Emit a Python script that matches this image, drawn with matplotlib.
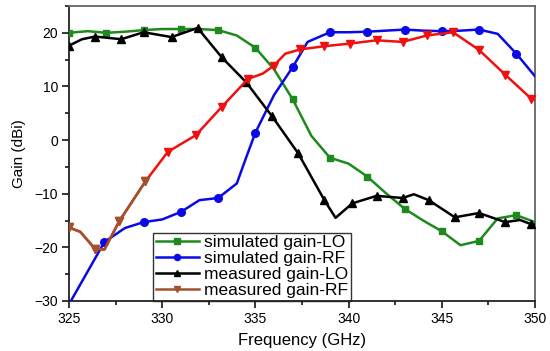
import matplotlib
matplotlib.use("Agg")
import matplotlib.pyplot as plt
from matplotlib.ticker import MultipleLocator

plt.rcParams['font.family'] = ['Liberation Sans', 'DejaVu Sans']

# simulated gain-LO
sim_lo_f = [325, 326, 327, 328, 329, 330, 331, 332, 333, 334, 335, 336, 337, 338,
            339, 340, 341, 342, 343, 344, 345, 346, 347, 348, 349, 350]
sim_lo_g = [20.0, 20.3, 20.0, 20.2, 20.5, 20.7, 20.7, 20.7, 20.5, 19.5, 17.2, 13.2, 7.6, 0.8,
            -3.3, -4.4, -6.8, -9.9, -12.8, -15.0, -17.0, -19.6, -18.8, -14.6, -14.0, -15.3]
sim_lo_mk = list(range(0, 26, 2))

# simulated gain-RF
sim_rf_f = [325.1, 326.9, 328, 329, 330, 331, 332, 333, 334, 334.5, 335, 336, 337, 337.8,
            339, 340, 341, 342, 343, 344, 345, 346, 347, 348, 349, 350]
sim_rf_g = [-30.0, -19.0, -16.4, -15.3, -14.8, -13.4, -11.2, -10.8, -8.1, -3.3, 1.4, 8.4, 13.6, 18.3,
            20.1, 20.1, 20.2, 20.4, 20.6, 20.4, 20.3, 20.4, 20.6, 19.8, 16.1, 11.9]
sim_rf_mk = [1, 3, 5, 7, 10, 12, 14, 16, 18, 20, 22, 24]

# measured gain-LO
meas_lo_f = [325, 325.7, 326.4, 327.8, 329.0, 330.5, 331.9, 333.2, 334.5, 335.9, 337.3, 338.7,
             339.3, 340.2, 341.5, 342.9, 343.5, 344.3, 345.7, 347.0, 348.4, 349.2, 349.8, 350]
meas_lo_g = [17.6, 18.8, 19.3, 18.8, 20.1, 19.2, 20.9, 15.4, 10.8, 4.4, -2.5, -11.2,
             -14.5, -11.8, -10.4, -10.8, -10.1, -11.2, -14.4, -13.6, -15.3, -14.9, -15.7, -15.8]
meas_lo_mk = [0, 2, 3, 4, 5, 6, 7, 8, 9, 10, 11, 13, 14, 15, 17, 18, 19, 20, 22]

# measured gain-RF
meas_rf_f = [325, 325.6, 326.4, 326.9, 327.7, 329.1, 330.3, 331.8, 333.2, 334.6, 335.4, 336.0,
             336.6, 337.4, 338.7, 340.1, 341.5, 342.9, 344.2, 345.6, 347.0, 348.4, 349.8, 350]
meas_rf_g = [-16.3, -17.1, -20.3, -20.4, -15.1, -7.7, -2.2, 0.9, 6.2, 11.4, 12.4, 13.9,
             16.1, 16.9, 17.5, 18.0, 18.6, 18.3, 19.5, 20.1, 16.8, 12.2, 7.7, 7.5]
meas_rf_mk = [0, 2, 4, 5, 6, 7, 8, 9, 11, 13, 14, 15, 16, 17, 18, 19, 20, 21, 22]
n_brown = 6  # first part of the measured RF trace looks brown

fig = plt.figure(figsize=(5.5, 3.51), dpi=100)
ax = fig.add_axes([0.1255, 0.1425, 0.8472, 0.8405])

green = '#1e8a1e'
blue = '#0a0ae6'
red = '#f01010'
brown = '#a0522d'

ax.plot(sim_lo_f, sim_lo_g, color=green, lw=1.8, marker='s', ms=5,
        markevery=sim_lo_mk, label='simulated gain-LO', zorder=3)
ax.plot(sim_rf_f, sim_rf_g, color=blue, lw=1.8, marker='o', ms=5.5,
        markevery=sim_rf_mk, label='simulated gain-RF', zorder=3)
ax.plot(meas_lo_f, meas_lo_g, color='black', lw=1.8, marker='^', ms=6,
        markevery=meas_lo_mk, label='measured gain-LO', zorder=4)
ax.plot(meas_rf_f, meas_rf_g, color=red, lw=1.8, marker='v', ms=6,
        markevery=meas_rf_mk, zorder=4)
ax.plot(meas_rf_f[:n_brown], meas_rf_g[:n_brown], color=brown, lw=1.8, marker='v', ms=6,
        markevery=[0, 2, 4, 5], label='measured gain-RF', zorder=5)

ax.set_xlim(325, 350)
ax.set_ylim(-30, 25)
ax.xaxis.set_major_locator(MultipleLocator(5))
ax.xaxis.set_minor_locator(MultipleLocator(2.5))
ax.yaxis.set_major_locator(MultipleLocator(10))
ax.yaxis.set_minor_locator(MultipleLocator(5))
ax.tick_params(which='major', direction='out', length=5, width=1.1, labelsize=10, pad=3)
ax.tick_params(which='minor', direction='out', length=3, width=1.1)
ax.tick_params(top=False, right=False)

for s in ['left', 'bottom']:
    ax.spines[s].set_linewidth(1.3)
    ax.spines[s].set_color('#222222')
for s in ['top', 'right']:
    ax.spines[s].set_linewidth(1.3)
    ax.spines[s].set_color('#666666')

ax.set_xlabel('Frequency (GHz)', fontsize=12, labelpad=5)
ax.set_ylabel('Gain (dBi)', fontsize=11, labelpad=6)

leg = ax.legend(loc='lower left', bbox_to_anchor=(0.18, 0.0), borderaxespad=0,
                fontsize=12.5, frameon=True, fancybox=False, edgecolor='black',
                handlelength=2.5, handletextpad=0.3, labelspacing=0.05,
                borderpad=0.15, markerscale=0.8)
leg.get_frame().set_linewidth(1.0)
leg.set_zorder(2)

fig.savefig('out.png', dpi=100)
